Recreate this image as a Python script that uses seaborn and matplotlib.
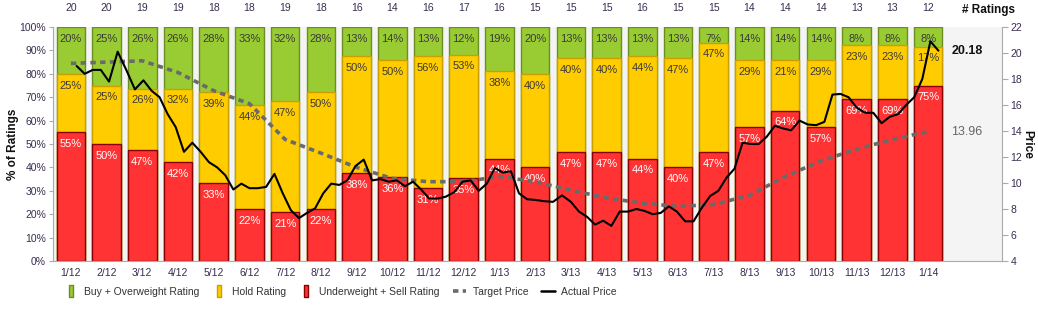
import numpy as np
import pandas as pd
import matplotlib
matplotlib.use("Agg")
import matplotlib.pyplot as plt
import matplotlib.transforms as mtransforms
from matplotlib.lines import Line2D
from matplotlib.path import Path
import seaborn as sns

# ---------------- data ----------------
months = ["1/12", "2/12", "3/12", "4/12", "5/12", "6/12", "7/12", "8/12", "9/12", "10/12",
          "11/12", "12/12", "1/13", "2/13", "3/13", "4/13", "5/13", "6/13", "7/13", "8/13",
          "9/13", "10/13", "11/13", "12/13", "1/14"]
buy_counts = [4, 5, 5, 5, 5, 6, 6, 5, 2, 2, 2, 2, 3, 3, 2, 2, 2, 2, 1, 2, 2, 2, 1, 1, 1]
hold_counts = [5, 5, 5, 6, 7, 8, 9, 9, 8, 7, 9, 9, 6, 6, 6, 6, 7, 7, 7, 4, 3, 4, 3, 3, 2]
sell_counts = [11, 10, 9, 8, 6, 4, 4, 4, 6, 5, 5, 6, 7, 6, 7, 7, 7, 6, 7, 8, 9, 8, 9, 9, 9]

# monthly target price (at start of each month)
target_price = [19.2, 19.3, 19.4, 18.5, 17.1, 16.1, 13.35, 12.3, 11.2, 10.35, 10.1, 10.1, 10.5,
                10.1, 9.45, 8.85, 8.45, 8.2, 8.35, 9.05, 10.5, 11.7, 12.6, 13.35, 13.96]

# weekly actual price, starting 2012-01-06
price_start = "2012-01-06"
actual_price = [19.0, 18.4, 18.7, 18.7, 17.8, 20.1, 18.7, 17.2, 17.9, 17.1,
                16.6, 15.3, 14.3, 12.4, 13.1, 12.4, 11.6, 11.2, 10.6, 9.5,
                9.95, 9.6, 9.6, 9.7, 10.7, 9.2, 7.9, 7.3, 7.7, 8.05,
                9.2, 9.95, 9.85, 10.2, 11.3, 11.8, 10.2, 10.3, 10.1, 10.2,
                9.75, 10.1, 9.5, 8.8, 8.8, 8.95, 9.3, 10.1, 10.2, 9.4,
                9.95, 11.15, 10.8, 10.9, 9.2, 8.75, 8.7, 8.6, 8.55, 9.05,
                8.55, 7.8, 7.4, 6.8, 7.1, 6.7, 7.8, 7.8, 8.0, 7.85,
                7.6, 7.7, 8.2, 7.8, 7.05, 7.05, 8.1, 9.0, 9.4, 10.4,
                11.1, 13.1, 13.0, 13.0, 13.56, 14.4, 14.2, 14.05, 14.8, 14.5,
                14.45, 14.7, 16.8, 16.85, 16.6, 15.8, 15.4, 15.4, 14.6, 15.1,
                15.3, 16.0, 16.6, 18.0, 20.9, 20.18]

pct_ticks = list(range(0, 101, 10))
price_ticks = list(range(4, 23, 2))

# ---------------- derived ----------------
b = np.array(buy_counts, float)
h = np.array(hold_counts, float)
s = np.array(sell_counts, float)
tot = b + h + s
pb, ph, ps = b / tot * 100, h / tot * 100, s / tot * 100


def month_pos(d):
    return (d.year - 2012) * 12 + (d.month - 1) + (d.day - 1) / d.days_in_month


price_dates = pd.date_range(price_start, periods=len(actual_price), freq="7D")
price_pos = np.array([month_pos(d) for d in price_dates])
target_pos = np.arange(len(target_price), dtype=float)

GREEN, GREEN_E = "#99cc33", "#6b8e23"
YELLOW, YELLOW_E = "#ffcc00", "#c9a000"
RED, RED_E = "#ff3333", "#8b0000"
TICKC = "#3a2c4f"
TGT = "#6a6a6a"

sns.set_style("white")
plt.rcParams["font.family"] = ["Liberation Sans", "DejaVu Sans"]

fig = plt.figure(figsize=(10.38, 3.34), dpi=100)
ax = fig.add_axes([53 / 1038, 73 / 334, (1002 - 53) / 1038, 234 / 334])
ax.set_facecolor("#f4f4f4")

bw = 0.8
sns.barplot(x=months, y=pb + ph + ps, color=GREEN, edgecolor=GREEN_E, linewidth=1,
            width=bw, saturation=1, ax=ax)
sns.barplot(x=months, y=ph + ps, color=YELLOW, edgecolor=YELLOW_E, linewidth=1,
            width=bw, saturation=1, ax=ax)
sns.barplot(x=months, y=ps, color=RED, edgecolor=RED_E, linewidth=1,
            width=bw, saturation=1, ax=ax)

ax.set_xlim(-0.5, 26.07)
ax.set_ylim(0, 100)
ax.set_yticks(pct_ticks)
ax.set_yticklabels([f"{t}%" for t in pct_ticks])
ax.set_xlabel("")
ax.set_ylabel("% of Ratings", fontweight="bold", fontsize=8.5, color="#111111")
ax.yaxis.set_label_coords(-0.036, 0.5)
ax.tick_params(axis="y", length=3, width=0.8, color="#aaaaaa", labelsize=7.5,
               labelcolor=TICKC, pad=2, left=True)
ax.tick_params(axis="x", length=0, labelsize=7.5, labelcolor=TICKC, pad=5)
for sp in ["top", "right"]:
    ax.spines[sp].set_visible(False)
for sp in ["left", "bottom"]:
    ax.spines[sp].set_color("#aaaaaa")
    ax.spines[sp].set_linewidth(0.8)


def rnd(v):
    return int(np.floor(v + 0.5))


for i in range(len(months)):
    for top, val, col in [(100, pb[i], "#3a3a3a"), (ph[i] + ps[i], ph[i], "#3a3a3a"),
                          (ps[i], ps[i], "white")]:
        ax.annotate(f"{rnd(val)}%", xy=(i, top), xytext=(0, -8.5), textcoords="offset points",
                    ha="center", va="center", fontsize=8, color=col, zorder=5)

trans_top = mtransforms.blended_transform_factory(ax.transData, ax.transAxes)
for i, n in enumerate(tot.astype(int)):
    ax.text(i, 1.082, str(n), transform=trans_top, ha="center", va="center",
            fontsize=7.5, color=TICKC)
ax.text(24.95, 1.072, "# Ratings", transform=trans_top, ha="left", va="center",
        fontsize=8.5, color="#111111", fontweight="bold")

ax2 = ax.twinx()
sns.lineplot(x=target_pos, y=target_price, ax=ax2, color=TGT, lw=2.6,
             linestyle=(0, (1.5, 1.2)), zorder=3)
sns.lineplot(x=price_pos, y=actual_price, ax=ax2, color="black", lw=1.5, zorder=4)
ax2.set_xlim(-0.5, 26.07)
ax2.set_ylim(4, 22)
ax2.set_yticks(price_ticks)
ax2.set_ylabel("Price", fontweight="bold", fontsize=8.5, color="#111111", rotation=270)
ax2.yaxis.set_label_coords(1.033, 0.5)
ax2.tick_params(axis="y", length=4, width=0.8, color="#aaaaaa", labelsize=7.5,
                labelcolor=TICKC, pad=2, right=True)
for sp in ["top", "left", "bottom"]:
    ax2.spines[sp].set_visible(False)
ax2.spines["right"].set_color("#aaaaaa")
ax2.spines["right"].set_linewidth(0.8)

ax2.text(24.65, actual_price[-1], f"{actual_price[-1]:.2f}", ha="left", va="center",
         fontsize=9, fontweight="bold", color="#111111")
ax2.text(24.65, target_price[-1], f"{target_price[-1]:.2f}", ha="left", va="center",
         fontsize=9, color="#666666")

rect = Path([[-0.35, -1], [0.35, -1], [0.35, 1], [-0.35, 1], [-0.35, -1]])
handles = [
    Line2D([], [], ls="", marker=rect, markersize=8, markerfacecolor=GREEN, markeredgecolor=GREEN_E),
    Line2D([], [], ls="", marker=rect, markersize=8, markerfacecolor=YELLOW, markeredgecolor=YELLOW_E),
    Line2D([], [], ls="", marker=rect, markersize=8, markerfacecolor=RED, markeredgecolor=RED_E),
    Line2D([], [], color=TGT, lw=2.6, ls=(0, (1.5, 1.2))),
    Line2D([], [], color="black", lw=1.8),
]
labels = ["Buy + Overweight Rating", "Hold Rating", "Underweight + Sell Rating",
          "Target Price", "Actual Price"]
fig.legend(handles, labels, ncol=5, loc="center left", bbox_to_anchor=(55 / 1038, 1 - 292 / 334),
           frameon=False, fontsize=7.5, handlelength=1.3, handletextpad=0.6, columnspacing=1.25,
           labelcolor="#333333")

fig.savefig("out.png", dpi=100)
